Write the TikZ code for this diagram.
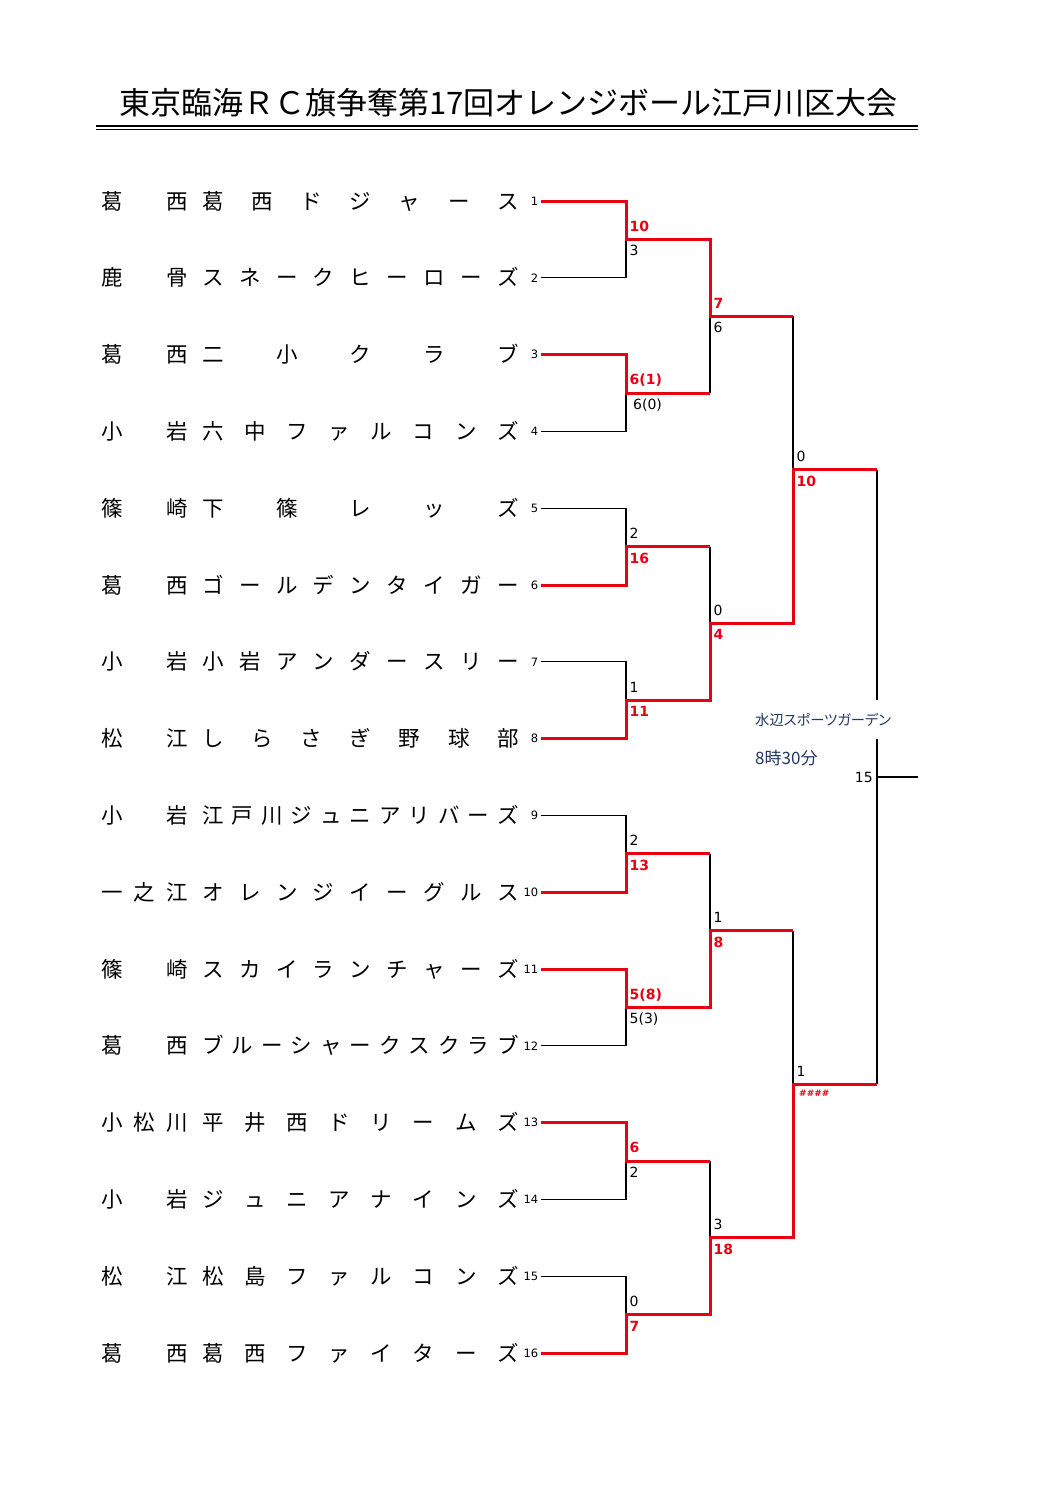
\documentclass[tikz,border=0pt]{standalone}
\usepackage{fontspec}
\usetikzlibrary{calc}
\newfontfamily\jpfont{Noto Sans CJK JP}
\newfontfamily\jppfont[RawFeature=+palt]{Noto Sans CJK JP}
\newfontfamily\numfont{DejaVu Sans}
\definecolor{winred}{RGB}{232,0,18}
\definecolor{venueblue}{RGB}{32,56,100}
\newcommand\teamrow[5]{%
  \foreach \c [count=\k from 0] in {#3} {\node[tname] (a#1-\k) at ({112+\k*65/(#2-1)}, {201+(#1-1)*76.8+8}) {\c};}
  \foreach \c [count=\k from 0] in {#5} {\node[tname] (b#1-\k) at ({213+\k*295/(#4-1)}, {201+(#1-1)*76.8+8}) {\c};}
}
\begin{document}
\begin{tikzpicture}[x=1pt,y=-1pt,
  tname/.style={font=\jpfont\fontsize{21.5}{21.5}\selectfont, inner sep=0pt, anchor=base},
  seed/.style={font=\numfont\fontsize{11.5}{11.5}\selectfont, inner sep=0pt, anchor=east},
  lbl/.style={font=\numfont\fontsize{14}{14}\selectfont, inner sep=0pt, anchor=base west},
  wlbl/.style={font=\numfont\bfseries\fontsize{14}{14}\selectfont, text=winred, inner sep=0pt, anchor=base west},
  loss/.style={draw=black, line width=1.2pt},
  win/.style={draw=winred, line width=3pt, line join=miter},
  venue/.style={text=venueblue, inner sep=0pt, anchor=base west}]
\fill[white] (0,0) rectangle (1058,1497);
\useasboundingbox (0,0) rectangle (1058,1497);

% title
\node[font=\jpfont\fontsize{31}{31}\selectfont, inner sep=0pt, anchor=base] (title) at (508.5,114.5) {東京臨海ＲＣ旗争奪第17回オレンジボール江戸川区大会};
\coordinate (tl1) at (96,126); \coordinate (tr1) at (918,126);
\coordinate (tl2) at (96,129.5); \coordinate (tr2) at (918,129.5);
\draw[line width=1.3pt] (tl1) -- (tr1);
\draw[line width=1.3pt] (tl2) -- (tr2);

% team names
\teamrow{1}{2}{葛,西}{7}{葛,西,ド,ジ,ャ,ー,ス}
\teamrow{2}{2}{鹿,骨}{9}{ス,ネ,ー,ク,ヒ,ー,ロ,ー,ズ}
\teamrow{3}{2}{葛,西}{5}{二,小,ク,ラ,ブ}
\teamrow{4}{2}{小,岩}{8}{六,中,フ,ァ,ル,コ,ン,ズ}
\teamrow{5}{2}{篠,崎}{5}{下,篠,レ,ッ,ズ}
\teamrow{6}{2}{葛,西}{9}{ゴ,ー,ル,デ,ン,タ,イ,ガ,ー}
\teamrow{7}{2}{小,岩}{9}{小,岩,ア,ン,ダ,ー,ス,リ,ー}
\teamrow{8}{2}{松,江}{7}{し,ら,さ,ぎ,野,球,部}
\teamrow{9}{2}{小,岩}{11}{江,戸,川,ジ,ュ,ニ,ア,リ,バ,ー,ズ}
\teamrow{10}{3}{一,之,江}{9}{オ,レ,ン,ジ,イ,ー,グ,ル,ス}
\teamrow{11}{2}{篠,崎}{9}{ス,カ,イ,ラ,ン,チ,ャ,ー,ズ}
\teamrow{12}{2}{葛,西}{11}{ブ,ル,ー,シ,ャ,ー,ク,ス,ク,ラ,ブ}
\teamrow{13}{3}{小,松,川}{8}{平,井,西,ド,リ,ー,ム,ズ}
\teamrow{14}{2}{小,岩}{8}{ジ,ュ,ニ,ア,ナ,イ,ン,ズ}
\teamrow{15}{2}{松,江}{8}{松,島,フ,ァ,ル,コ,ン,ズ}
\teamrow{16}{2}{葛,西}{8}{葛,西,フ,ァ,イ,タ,ー,ズ}

% seeds and coordinates
\foreach \i in {1,...,16} {
  \node[seed] (s\i) at (538.5,{201+(\i-1)*76.8}) {\i};
  \coordinate (t\i) at (541,{201+(\i-1)*76.8});
  \coordinate (v\i) at (626,{201+(\i-1)*76.8});
}
\foreach \j in {1,...,8} {
  \coordinate (p\j) at (626,{201+(2*\j-1.5)*76.8});
  \coordinate (q\j) at (710,{201+(2*\j-1.5)*76.8});
}
\foreach \k in {1,...,4} {
  \coordinate (pp\k) at (710,{201+(4*\k-2.5)*76.8});
  \coordinate (qq\k) at (793,{201+(4*\k-2.5)*76.8});
}
\foreach \l in {1,2} {
  \coordinate (ppp\l) at (793,{201+(8*\l-4.5)*76.8});
  \coordinate (qqq\l) at (877,{201+(8*\l-4.5)*76.8});
}
\coordinate (fin) at (877,777);
\coordinate (fend) at (918,777);
\coordinate (gT) at (877,700);
\coordinate (gB) at (877,739);

% losing lines
\draw[loss] (t2) -- (v2) -- (p1);
\draw[loss] (t4) -- (v4) -- (p2);
\draw[loss] (t5) -- (v5) -- (p3);
\draw[loss] (t7) -- (v7) -- (p4);
\draw[loss] (t9) -- (v9) -- (p5);
\draw[loss] (t12) -- (v12) -- (p6);
\draw[loss] (t14) -- (v14) -- (p7);
\draw[loss] (t15) -- (v15) -- (p8);
\draw[loss] (q2) -- (pp1);
\draw[loss] (q3) -- (pp2);
\draw[loss] (q5) -- (pp3);
\draw[loss] (q7) -- (pp4);
\draw[loss] (qq1) -- (ppp1);
\draw[loss] (qq3) -- (ppp2);
\draw[loss] (qqq1) -- (gT);
\draw[loss] (gB) -- (qqq2);
\draw[loss] (fin) -- (fend);

% winning lines
\draw[win] (t1) -- (v1) -- (p1) -- (q1) -- (pp1) -- (qq1);
\draw[win] (t3) -- (v3) -- (p2) -- (q2);
\draw[win] (t6) -- (v6) -- (p3) -- (q3);
\draw[win] (t8) -- (v8) -- (p4) -- (q4) -- (pp2) -- (qq2) -- (ppp1) -- (qqq1);
\draw[win] (t10) -- (v10) -- (p5) -- (q5);
\draw[win] (t11) -- (v11) -- (p6) -- (q6) -- (pp3) -- (qq3);
\draw[win] (t13) -- (v13) -- (p7) -- (q7);
\draw[win] (t16) -- (v16) -- (p8) -- (q8) -- (pp4) -- (qq4) -- (ppp2) -- (qqq2);

% scores round 1
\node[wlbl] (r1u1) at ($(p1)+(3.5,-8.1)$) {10};
\node[lbl]  (r1l1) at ($(p1)+(3.5,16.4)$) {3};
\node[wlbl] (r1u2) at ($(p2)+(3.5,-8.1)$) {6(1)};
\node[lbl]  (r1l2) at ($(p2)+(7,16.4)$) {6(0)};
\node[lbl]  (r1u3) at ($(p3)+(3.5,-8.1)$) {2};
\node[wlbl] (r1l3) at ($(p3)+(3.5,16.4)$) {16};
\node[lbl]  (r1u4) at ($(p4)+(3.5,-8.1)$) {1};
\node[wlbl] (r1l4) at ($(p4)+(3.5,16.4)$) {11};
\node[lbl]  (r1u5) at ($(p5)+(3.5,-8.1)$) {2};
\node[wlbl] (r1l5) at ($(p5)+(3.5,16.4)$) {13};
\node[wlbl] (r1u6) at ($(p6)+(3.5,-8.1)$) {5(8)};
\node[lbl]  (r1l6) at ($(p6)+(3.5,16.4)$) {5(3)};
\node[wlbl] (r1u7) at ($(p7)+(3.5,-8.1)$) {6};
\node[lbl]  (r1l7) at ($(p7)+(3.5,16.4)$) {2};
\node[lbl]  (r1u8) at ($(p8)+(3.5,-8.1)$) {0};
\node[wlbl] (r1l8) at ($(p8)+(3.5,16.4)$) {7};
% round 2
\node[wlbl] (r2u1) at ($(pp1)+(3.5,-8.1)$) {7};
\node[lbl]  (r2l1) at ($(pp1)+(3.5,16.4)$) {6};
\node[lbl]  (r2u2) at ($(pp2)+(3.5,-8.1)$) {0};
\node[wlbl] (r2l2) at ($(pp2)+(3.5,16.4)$) {4};
\node[lbl]  (r2u3) at ($(pp3)+(3.5,-8.1)$) {1};
\node[wlbl] (r2l3) at ($(pp3)+(3.5,16.4)$) {8};
\node[lbl]  (r2u4) at ($(pp4)+(3.5,-8.1)$) {3};
\node[wlbl] (r2l4) at ($(pp4)+(3.5,16.4)$) {18};
% round 3
\node[lbl]  (r3u1) at ($(ppp1)+(3.5,-8.1)$) {0};
\node[wlbl] (r3l1) at ($(ppp1)+(3.5,16.4)$) {10};
\node[lbl]  (r3u2) at ($(ppp2)+(3.5,-8.1)$) {1};
\node[wlbl, font=\numfont\bfseries\fontsize{9}{9}\selectfont] (r3l2) at ($(ppp2)+(6,12.3)$) {\#\#\#\#};
% final
\node[lbl, anchor=base east] (fs) at ($(fin)+(-4,5.1)$) {15};

% venue
\node[venue, font=\jppfont\fontsize{14.3}{14.3}\selectfont] (venue1) at (755,725.5) {水辺スポーツガーデン};
\node[venue, font=\jppfont\fontsize{17}{17}\selectfont] (venue2) at (755,764) {8時30分};
\end{tikzpicture}
\end{document}
